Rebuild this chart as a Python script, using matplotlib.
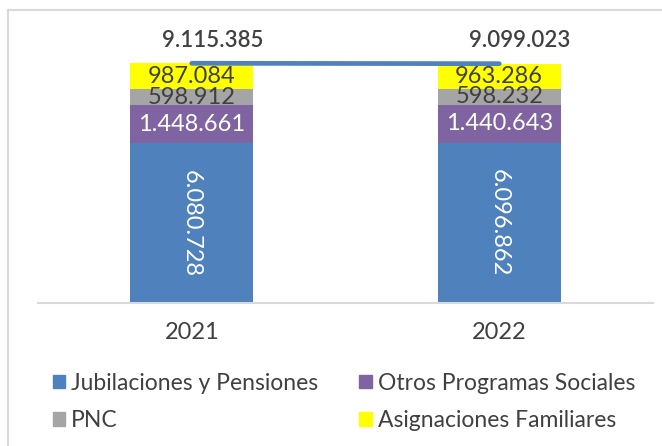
import matplotlib.pyplot as plt
from matplotlib.lines import Line2D
from matplotlib.patches import Patch

plt.rcParams['font.family'] = ['Lato', 'DejaVu Sans']

# Data
years = ['2021', '2022']
jubilaciones = [6080728, 6096862]
otros = [1448661, 1440643]
pnc = [598912, 598232]
asignaciones = [987084, 963286]
totales = [9115385, 9099023]

series_names = ['Jubilaciones y Pensiones', 'Otros Programas Sociales',
                'PNC', 'Asignaciones Familiares']
colors = ['#4F81BD', '#8064A2', '#A5A5A5', '#FFFF00']
label_colors = ['white', 'white', '#404040', '#404040']

TEXT = '#404040'


def fmt(v):
    return f"{v:,}".replace(',', '.')


fig = plt.figure(figsize=(6.62, 4.46), dpi=100)
ax = fig.add_axes([38 / 662, 143 / 446, 615 / 662, 283 / 446])

x = [0, 1]
bottoms = [0, 0]
for vals, name, col, lcol in zip([jubilaciones, otros, pnc, asignaciones],
                                 series_names, colors, label_colors):
    ax.bar(x, vals, bottom=bottoms, width=0.4, color=col, label=name)
    for xi, v, b in zip(x, vals, bottoms):
        rot = 270 if name.startswith('Jub') else 0
        ax.text(xi, b + v / 2, fmt(v), ha='center', va='center', color=lcol,
                fontsize=17, rotation=rot)
    bottoms = [b + v for b, v in zip(bottoms, vals)]

# totals line joining the bar tops
ax.plot(x, totales, color='#4F81BD', lw=3.4, solid_capstyle='round', zorder=3)
for xi, t in zip(x, totales):
    ax.annotate(fmt(t), (xi, t), xytext=(15, 9), textcoords='offset points',
                ha='center', va='bottom', fontsize=16, color=TEXT,
                fontweight='semibold')

ax.set_xlim(-0.5, 1.5)
ax.set_ylim(0, 10.76e6)
ax.set_xticks(x)
ax.set_xticklabels(years, fontsize=17, color=TEXT)
ax.tick_params(axis='x', length=0, pad=14)
ax.set_yticks([])
for s in ['top', 'right', 'left']:
    ax.spines[s].set_visible(False)
ax.spines['bottom'].set_color('#D9D9D9')
ax.spines['bottom'].set_linewidth(1.5)

handles = [Patch(color=c) for c in colors]
order = [0, 2, 1, 3]
fig.legend([handles[i] for i in order], [series_names[i] for i in order],
           ncol=2, loc='upper left', bbox_to_anchor=(32 / 662, 1 - 352 / 446),
           frameon=False, fontsize=16.5, labelcolor=TEXT,
           handlelength=0.55, handleheight=0.55, handletextpad=0.25,
           columnspacing=1.8, labelspacing=0.72)

# outer chart border
fig.add_artist(Line2D([8 / 662, 8 / 662], [0, 1 - 10 / 446], color='#D9D9D9', lw=1.5))
fig.add_artist(Line2D([8 / 662, 1], [1 - 10 / 446, 1 - 10 / 446], color='#D9D9D9', lw=1.5))

fig.savefig('out.png', dpi=100)
